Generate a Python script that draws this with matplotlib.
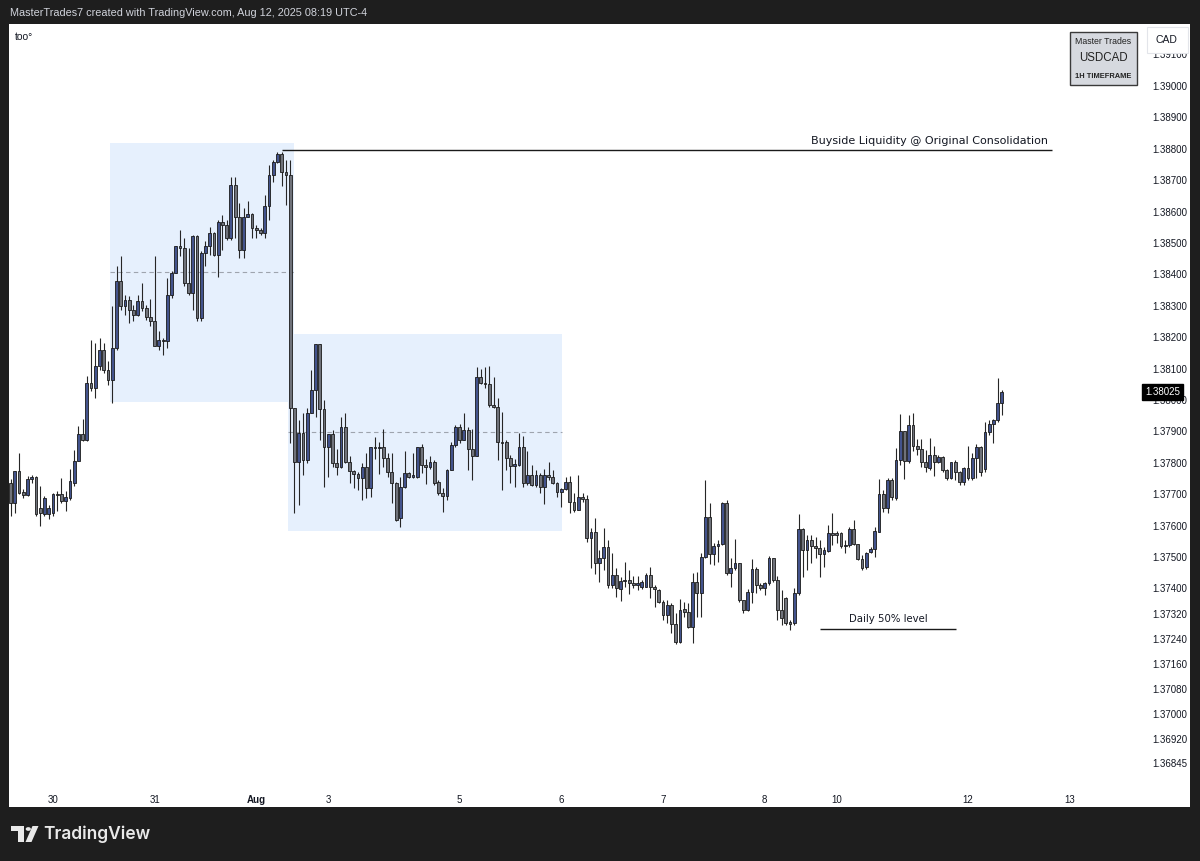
import numpy as np
import matplotlib
matplotlib.use("Agg")
import matplotlib.pyplot as plt
from matplotlib.patches import Rectangle, Polygon, Circle

# ---------------- data (USDCAD 1H candles) ----------------
open_ = [1.37736, 1.37673, 1.37773, 1.37706, 1.37698, 1.37747, 1.37755, 1.37657, 1.37636, 1.37636,
         1.37641, 1.37700, 1.37700, 1.37678, 1.37689, 1.37736, 1.37805, 1.37890, 1.37874, 1.38054,
         1.38038, 1.38107, 1.38160, 1.38096, 1.38065, 1.38165, 1.38378, 1.38298, 1.38319, 1.38287,
         1.38272, 1.38314, 1.38293, 1.38263, 1.38250, 1.38171, 1.38192, 1.38187, 1.38335, 1.38404,
         1.38489, 1.38484, 1.38372, 1.38340, 1.38521, 1.38261, 1.38468, 1.38489, 1.38531, 1.38462,
         1.38568, 1.38558, 1.38515, 1.38685, 1.38584, 1.38478, 1.38584, 1.38593, 1.38547, 1.38542,
         1.38531, 1.38616, 1.38717, 1.38759, 1.38783, 1.38725, 1.38717, 1.37974, 1.37804, 1.37894,
         1.37809, 1.37960, 1.38032, 1.38178, 1.37970, 1.37849, 1.37892, 1.37798, 1.37786, 1.37915,
         1.37801, 1.37775, 1.37764, 1.37751, 1.37786, 1.37719, 1.37849, 1.37846, 1.37851, 1.37814,
         1.37772, 1.37737, 1.37623, 1.37724, 1.37767, 1.37756, 1.37756, 1.37849, 1.37793, 1.37788,
         1.37804, 1.37740, 1.37703, 1.37695, 1.37777, 1.37857, 1.37913, 1.37873, 1.37905, 1.37843,
         1.37822, 1.38072, 1.38053, 1.38051, 1.37984, 1.37977, 1.37867, 1.37867, 1.37814, 1.37790,
         1.37793, 1.37849, 1.37735, 1.37761, 1.37729, 1.37761, 1.37724, 1.37761, 1.37756, 1.37737,
         1.37708, 1.37715, 1.37740, 1.37676, 1.37650, 1.37692, 1.37684, 1.37559, 1.37581, 1.37480,
         1.37496, 1.37531, 1.37411, 1.37443, 1.37398, 1.37423, 1.37427, 1.37416, 1.37411, 1.37403,
         1.37405, 1.37443, 1.37403, 1.37395, 1.37358, 1.37315, 1.37347, 1.37287, 1.37230, 1.37333,
         1.37326, 1.37278, 1.37421, 1.37384, 1.37499, 1.37628, 1.37509, 1.37535, 1.37541, 1.37671,
         1.37448, 1.37464, 1.37480, 1.37363, 1.37331, 1.37390, 1.37461, 1.37411, 1.37400, 1.37418,
         1.37496, 1.37427, 1.37331, 1.37368, 1.37294, 1.37291, 1.37386, 1.37588, 1.37522, 1.37554,
         1.37535, 1.37528, 1.37509, 1.37520, 1.37575, 1.37575, 1.37575, 1.37535, 1.37538, 1.37588,
         1.37541, 1.37492, 1.37467, 1.37517, 1.37524, 1.37581, 1.37701, 1.37655, 1.37745, 1.37687,
         1.37809, 1.37900, 1.37805, 1.37921, 1.37852, 1.37845, 1.37804, 1.37783, 1.37825, 1.37801,
         1.37818, 1.37777, 1.37751, 1.37801, 1.37772, 1.37740, 1.37783, 1.37751, 1.37815, 1.37850,
         1.37780, 1.37899, 1.37924, 1.37935, 1.37990]

high = [1.37747, 1.37773, 1.37832, 1.37716, 1.37757, 1.37762, 1.37757, 1.37726, 1.37694, 1.37667,
        1.37704, 1.37710, 1.37752, 1.37710, 1.37779, 1.37842, 1.37916, 1.37938, 1.38075, 1.38192,
        1.38181, 1.38197, 1.38181, 1.38123, 1.38298, 1.38425, 1.38457, 1.38335, 1.38330, 1.38303,
        1.38335, 1.38372, 1.38303, 1.38321, 1.38457, 1.38218, 1.38197, 1.38388, 1.38409, 1.38489,
        1.38542, 1.38515, 1.38484, 1.38526, 1.38526, 1.38473, 1.38505, 1.38550, 1.38536, 1.38574,
        1.38590, 1.38574, 1.38711, 1.38711, 1.38627, 1.38611, 1.38632, 1.38595, 1.38558, 1.38547,
        1.38653, 1.38748, 1.38764, 1.38791, 1.38791, 1.38764, 1.38764, 1.37974, 1.37936, 1.37958,
        1.37974, 1.38096, 1.38178, 1.38178, 1.38000, 1.37892, 1.37905, 1.37843, 1.37945, 1.37958,
        1.37820, 1.37777, 1.37772, 1.37798, 1.37832, 1.37851, 1.37883, 1.37867, 1.37907, 1.37830,
        1.37832, 1.37740, 1.37756, 1.37839, 1.37772, 1.37830, 1.37851, 1.37860, 1.37811, 1.37822,
        1.37809, 1.37745, 1.37719, 1.37780, 1.37867, 1.37921, 1.37924, 1.37958, 1.37913, 1.37907,
        1.38104, 1.38098, 1.38104, 1.38108, 1.38074, 1.38005, 1.37963, 1.37873, 1.37825, 1.37811,
        1.37894, 1.37885, 1.37836, 1.37793, 1.37777, 1.37767, 1.37780, 1.37801, 1.37777, 1.37740,
        1.37719, 1.37756, 1.37758, 1.37703, 1.37761, 1.37703, 1.37697, 1.37591, 1.37623, 1.37522,
        1.37591, 1.37554, 1.37512, 1.37464, 1.37437, 1.37485, 1.37459, 1.37439, 1.37439, 1.37427,
        1.37450, 1.37469, 1.37411, 1.37397, 1.37363, 1.37363, 1.37352, 1.37322, 1.37365, 1.37358,
        1.37354, 1.37450, 1.37453, 1.37512, 1.37745, 1.37671, 1.37543, 1.37554, 1.37676, 1.37681,
        1.37496, 1.37556, 1.37482, 1.37363, 1.37397, 1.37493, 1.37469, 1.37416, 1.37421, 1.37503,
        1.37496, 1.37439, 1.37395, 1.37372, 1.37299, 1.37400, 1.37637, 1.37591, 1.37570, 1.37570,
        1.37565, 1.37554, 1.37533, 1.37602, 1.37641, 1.37583, 1.37580, 1.37554, 1.37597, 1.37618,
        1.37541, 1.37506, 1.37517, 1.37533, 1.37594, 1.37747, 1.37713, 1.37750, 1.37750, 1.37847,
        1.37956, 1.37900, 1.37953, 1.37960, 1.37875, 1.37875, 1.37841, 1.37878, 1.37854, 1.37825,
        1.37822, 1.37780, 1.37804, 1.37809, 1.37775, 1.37788, 1.37852, 1.37831, 1.37860, 1.37852,
        1.37931, 1.37937, 1.37939, 1.38069, 1.38032]

low = [1.37630, 1.37641, 1.37700, 1.37688, 1.37694, 1.37736, 1.37630, 1.37598, 1.37630, 1.37620,
       1.37630, 1.37646, 1.37673, 1.37646, 1.37683, 1.37726, 1.37805, 1.37869, 1.37869, 1.38028,
       1.38007, 1.38096, 1.38086, 1.38049, 1.37990, 1.38160, 1.38287, 1.38272, 1.38245, 1.38251,
       1.38266, 1.38282, 1.38256, 1.38235, 1.38171, 1.38160, 1.38144, 1.38165, 1.38325, 1.38404,
       1.38457, 1.38362, 1.38335, 1.38287, 1.38250, 1.38250, 1.38425, 1.38462, 1.38457, 1.38393,
       1.38478, 1.38510, 1.38510, 1.38515, 1.38452, 1.38452, 1.38584, 1.38515, 1.38515, 1.38526,
       1.38515, 1.38574, 1.38695, 1.38754, 1.38680, 1.38621, 1.37864, 1.37641, 1.37665, 1.37761,
       1.37798, 1.37958, 1.37947, 1.37873, 1.37724, 1.37756, 1.37788, 1.37761, 1.37783, 1.37798,
       1.37735, 1.37719, 1.37713, 1.37682, 1.37687, 1.37692, 1.37811, 1.37764, 1.37788, 1.37756,
       1.37671, 1.37613, 1.37595, 1.37719, 1.37751, 1.37751, 1.37751, 1.37767, 1.37733, 1.37780,
       1.37729, 1.37698, 1.37644, 1.37682, 1.37777, 1.37851, 1.37864, 1.37871, 1.37777, 1.37745,
       1.37822, 1.38051, 1.38037, 1.37979, 1.37974, 1.37809, 1.37713, 1.37777, 1.37735, 1.37722,
       1.37790, 1.37724, 1.37729, 1.37726, 1.37724, 1.37703, 1.37669, 1.37745, 1.37733, 1.37692,
       1.37660, 1.37713, 1.37641, 1.37644, 1.37650, 1.37676, 1.37549, 1.37464, 1.37446, 1.37421,
       1.37459, 1.37400, 1.37400, 1.37374, 1.37361, 1.37405, 1.37382, 1.37400, 1.37395, 1.37397,
       1.37403, 1.37368, 1.37342, 1.37352, 1.37299, 1.37291, 1.37257, 1.37223, 1.37227, 1.37310,
       1.37273, 1.37227, 1.37310, 1.37310, 1.37496, 1.37478, 1.37474, 1.37485, 1.37538, 1.37443,
       1.37405, 1.37459, 1.37358, 1.37323, 1.37329, 1.37352, 1.37384, 1.37395, 1.37379, 1.37411,
       1.37421, 1.37299, 1.37284, 1.37284, 1.37267, 1.37284, 1.37379, 1.37437, 1.37459, 1.37480,
       1.37496, 1.37437, 1.37469, 1.37517, 1.37538, 1.37543, 1.37528, 1.37514, 1.37533, 1.37538,
       1.37490, 1.37459, 1.37461, 1.37512, 1.37501, 1.37581, 1.37644, 1.37641, 1.37681, 1.37682,
       1.37793, 1.37748, 1.37799, 1.37836, 1.37825, 1.37788, 1.37772, 1.37777, 1.37758, 1.37799,
       1.37772, 1.37746, 1.37748, 1.37746, 1.37730, 1.37730, 1.37746, 1.37745, 1.37751, 1.37758,
       1.37770, 1.37889, 1.37862, 1.37931, 1.37953]

close = [1.37673, 1.37773, 1.37704, 1.37696, 1.37747, 1.37755, 1.37636, 1.37641, 1.37689, 1.37657,
         1.37700, 1.37698, 1.37678, 1.37690, 1.37742, 1.37805, 1.37890, 1.37874, 1.38054, 1.38038,
         1.38107, 1.38160, 1.38096, 1.38065, 1.38165, 1.38378, 1.38298, 1.38319, 1.38287, 1.38272,
         1.38314, 1.38293, 1.38263, 1.38250, 1.38171, 1.38192, 1.38187, 1.38335, 1.38404, 1.38489,
         1.38484, 1.38372, 1.38340, 1.38521, 1.38261, 1.38468, 1.38489, 1.38531, 1.38462, 1.38568,
         1.38558, 1.38515, 1.38685, 1.38584, 1.38478, 1.38584, 1.38593, 1.38547, 1.38542, 1.38533,
         1.38616, 1.38717, 1.38759, 1.38783, 1.38725, 1.38717, 1.37975, 1.37804, 1.37894, 1.37809,
         1.37960, 1.38032, 1.38178, 1.37970, 1.37849, 1.37892, 1.37798, 1.37786, 1.37915, 1.37801,
         1.37775, 1.37764, 1.37751, 1.37786, 1.37719, 1.37849, 1.37846, 1.37851, 1.37814, 1.37772,
         1.37737, 1.37618, 1.37724, 1.37767, 1.37756, 1.37761, 1.37849, 1.37793, 1.37788, 1.37804,
         1.37735, 1.37703, 1.37695, 1.37777, 1.37857, 1.37913, 1.37873, 1.37905, 1.37843, 1.37822,
         1.38072, 1.38053, 1.38051, 1.37984, 1.37977, 1.37867, 1.37862, 1.37814, 1.37790, 1.37796,
         1.37849, 1.37735, 1.37761, 1.37729, 1.37761, 1.37724, 1.37761, 1.37756, 1.37737, 1.37708,
         1.37715, 1.37740, 1.37676, 1.37650, 1.37692, 1.37684, 1.37559, 1.37581, 1.37480, 1.37496,
         1.37531, 1.37411, 1.37443, 1.37400, 1.37423, 1.37427, 1.37416, 1.37411, 1.37416, 1.37421,
         1.37443, 1.37403, 1.37397, 1.37358, 1.37315, 1.37347, 1.37287, 1.37230, 1.37331, 1.37326,
         1.37278, 1.37421, 1.37384, 1.37499, 1.37628, 1.37509, 1.37535, 1.37541, 1.37671, 1.37448,
         1.37464, 1.37480, 1.37363, 1.37331, 1.37390, 1.37461, 1.37411, 1.37400, 1.37418, 1.37496,
         1.37427, 1.37331, 1.37305, 1.37291, 1.37288, 1.37386, 1.37588, 1.37522, 1.37554, 1.37535,
         1.37528, 1.37509, 1.37522, 1.37575, 1.37570, 1.37570, 1.37535, 1.37539, 1.37588, 1.37541,
         1.37492, 1.37464, 1.37514, 1.37524, 1.37584, 1.37701, 1.37655, 1.37745, 1.37692, 1.37809,
         1.37900, 1.37805, 1.37921, 1.37852, 1.37845, 1.37804, 1.37788, 1.37825, 1.37801, 1.37818,
         1.37777, 1.37751, 1.37801, 1.37772, 1.37740, 1.37783, 1.37751, 1.37815, 1.37850, 1.37772,
         1.37899, 1.37924, 1.37935, 1.37990, 1.38025]

price_ticks = [1.39100, 1.39000, 1.38900, 1.38800, 1.38700, 1.38600, 1.38500, 1.38400, 1.38300,
               1.38200, 1.38100, 1.38000, 1.37900, 1.37800, 1.37700, 1.37600, 1.37500, 1.37400,
               1.37320, 1.37240, 1.37160, 1.37080, 1.37000, 1.36920, 1.36845]
time_ticks = [10, 34, 58, 75, 106, 130, 154, 178, 195, 226, 250]       # bar index of each label
time_labels = ["30", "31", "Aug", "3", "5", "6", "7", "8", "10", "12", "13"]

# consolidation boxes: (first bar, last bar, low price, high price)
box_starts = [23.5, 65.5]
box_ends = [66.9, 130.1]
box_lows = [1.37993, 1.37583]
box_highs = [1.38819, 1.38210]

liquidity_level = 1.38795
liquidity_span = (64.0, 245.8)
daily50_level = 1.37270
daily50_span = (191.1, 223.2)
last_price = 1.38025

# ---------------- figure ----------------
W, H = 1200, 861
BG = "#1e1e1e"
fig = plt.figure(figsize=(W / 100, H / 100), dpi=100, facecolor=BG)


def fx(x):
    return x / W


def fy(y):
    return 1 - y / H


def frect(x0, y0, x1, y1, **kw):
    r = Rectangle((fx(x0), fy(y1)), (x1 - x0) / W, (y1 - y0) / H,
                  transform=fig.transFigure, **kw)
    fig.add_artist(r)
    return r


# white chart panel
frect(9, 24, 1190, 807, facecolor="white", edgecolor="none", zorder=-1)

ax = fig.add_axes([fx(9), fy(785), (1140 - 9) / W, (785 - 24) / H])
ax.set_facecolor("white")
for s in ax.spines.values():
    s.set_visible(False)
ax.set_xlim(-0.38, 266.6)
ax.set_ylim(1.36774, 1.39197)

o = np.array(open_)
h = np.array(high)
l = np.array(low)
c = np.array(close)
idx = np.arange(len(c))
up = c >= o

# boxes
for x0, x1, lo, hi in zip(box_starts, box_ends, box_lows, box_highs):
    ax.add_patch(Rectangle((x0, lo), x1 - x0, hi - lo, facecolor="#e6f0fd",
                           edgecolor="none", zorder=1))
for x0, x1, lo, hi in zip(box_starts, box_ends, box_lows, box_highs):
    ax.hlines((lo + hi) / 2, x0, x1, colors="#9ea4ae", linestyles=(0, (4, 3)),
              linewidth=0.8, zorder=2)

# candles
ax.vlines(idx, l, h, colors="#262626", linewidth=0.8, zorder=3)
body_lo = np.minimum(o, c)
body_h = np.maximum(np.abs(c - o), 0.00002)
ax.bar(idx, body_h, bottom=body_lo, width=0.66,
       color=np.where(up, "#43538c", "#6f727a"), edgecolor="#1a1a1a",
       linewidth=0.6, zorder=4)

# annotations
label_font = ["DejaVu Sans"]
ax.hlines(liquidity_level, liquidity_span[0], liquidity_span[1], colors="#1a1a1a",
          linewidth=1.0, zorder=5)
ax.annotate("Buyside Liquidity @ Original Consolidation", xy=(liquidity_span[1] - 0.9, liquidity_level),
            xytext=(0, 3.4), textcoords="offset points", ha="right", va="bottom",
            fontsize=8.0, color="#131722", family=label_font, zorder=6)
ax.hlines(daily50_level, daily50_span[0], daily50_span[1], colors="#1a1a1a",
          linewidth=1.0, zorder=5)
ax.annotate("Daily 50% level", xy=((daily50_span[0] + daily50_span[1]) / 2, daily50_level),
            xytext=(0, 3.8), textcoords="offset points", ha="center", va="bottom",
            fontsize=7.3, color="#131722", family=label_font, zorder=6)

# axes ticks
narrow = ["Liberation Sans Narrow", "Liberation Sans", "DejaVu Sans"]
ax.yaxis.tick_right()
ax.set_yticks(price_ticks, [f"{p:.5f}" for p in price_ticks])
ax.tick_params(axis="y", length=0, pad=9, labelsize=7, labelcolor="#131722")
ax.set_xticks(time_ticks, time_labels)
ax.tick_params(axis="x", length=0, pad=7, labelsize=7, labelcolor="#131722")
for lbl in ax.get_yticklabels() + ax.get_xticklabels():
    lbl.set_fontfamily(narrow)
ax.get_xticklabels()[time_labels.index("Aug")].set_fontweight("bold")

# last price tag
ax.text(1.0045, last_price, f"{last_price:.5f}", transform=ax.get_yaxis_transform(),
        ha="left", va="center", fontsize=7, color="white", family=narrow,
        bbox=dict(boxstyle="square,pad=0.3", facecolor="black", edgecolor="black"),
        zorder=10, clip_on=False)

# currency tag (covers the top price label)
frect(1147, 27, 1188, 53, facecolor="white", edgecolor="#e3e5ea", linewidth=0.8, zorder=5)
fig.text(fx(1166), fy(40), "CAD", ha="center", va="center", fontsize=7.5,
         color="#131722", family=["Liberation Sans", "DejaVu Sans"], zorder=6)

# "Master Trades" badge
frect(1070, 32, 1137, 85, facecolor="#d6d9df", edgecolor="#3a3a3a", linewidth=1.0, zorder=5)
fig.text(fx(1103.5), fy(41.5), "Master Trades", ha="center", va="center", fontsize=6.3,
         color="#222222", family=["Liberation Sans", "DejaVu Sans"], zorder=6)
fig.text(fx(1103.5), fy(58), "USDCAD", ha="center", va="center", fontsize=8.3,
         color="#222222", family=["Liberation Sans", "DejaVu Sans"], zorder=6)
fig.text(fx(1103.5), fy(76.5), "1H TIMEFRAME", ha="center", va="center", fontsize=5.4,
         color="#222222", fontweight="bold", family=["Liberation Sans", "DejaVu Sans"], zorder=6)

# header and corner texts
fig.text(fx(10), fy(13), "MasterTrades7 created with TradingView.com, Aug 12, 2025 08:19 UTC-4",
         ha="left", va="center", fontsize=7.8, color="#d1d4dc",
         family=["Liberation Sans", "DejaVu Sans"])
fig.text(fx(15), fy(37), "too°", ha="left", va="center", fontsize=7.5, color="#131722",
         family=["Liberation Sans", "DejaVu Sans"])

# TradingView footer logo
logo_c = "#e9e9e9"
frect(11, 826, 24, 831, facecolor=logo_c, edgecolor="none", zorder=3)
frect(18, 826, 24, 842, facecolor=logo_c, edgecolor="none", zorder=3)
fig.add_artist(Circle((fx(28.3), fy(829)), 2.6 / W, transform=fig.transFigure,
                      facecolor=logo_c, edgecolor="none", zorder=3))
fig.add_artist(Polygon([(fx(32.5), fy(826)), (fx(38.5), fy(826)), (fx(31.5), fy(842)),
                        (fx(25.5), fy(842))], closed=True, transform=fig.transFigure,
                       facecolor=logo_c, edgecolor="none", zorder=3))
fig.text(fx(43), fy(834), "TradingView", ha="left", va="center", fontsize=12.5,
         color=logo_c, fontweight="semibold", family=["Inter", "DejaVu Sans"])

fig.savefig("out.png", dpi=100, facecolor=BG)
